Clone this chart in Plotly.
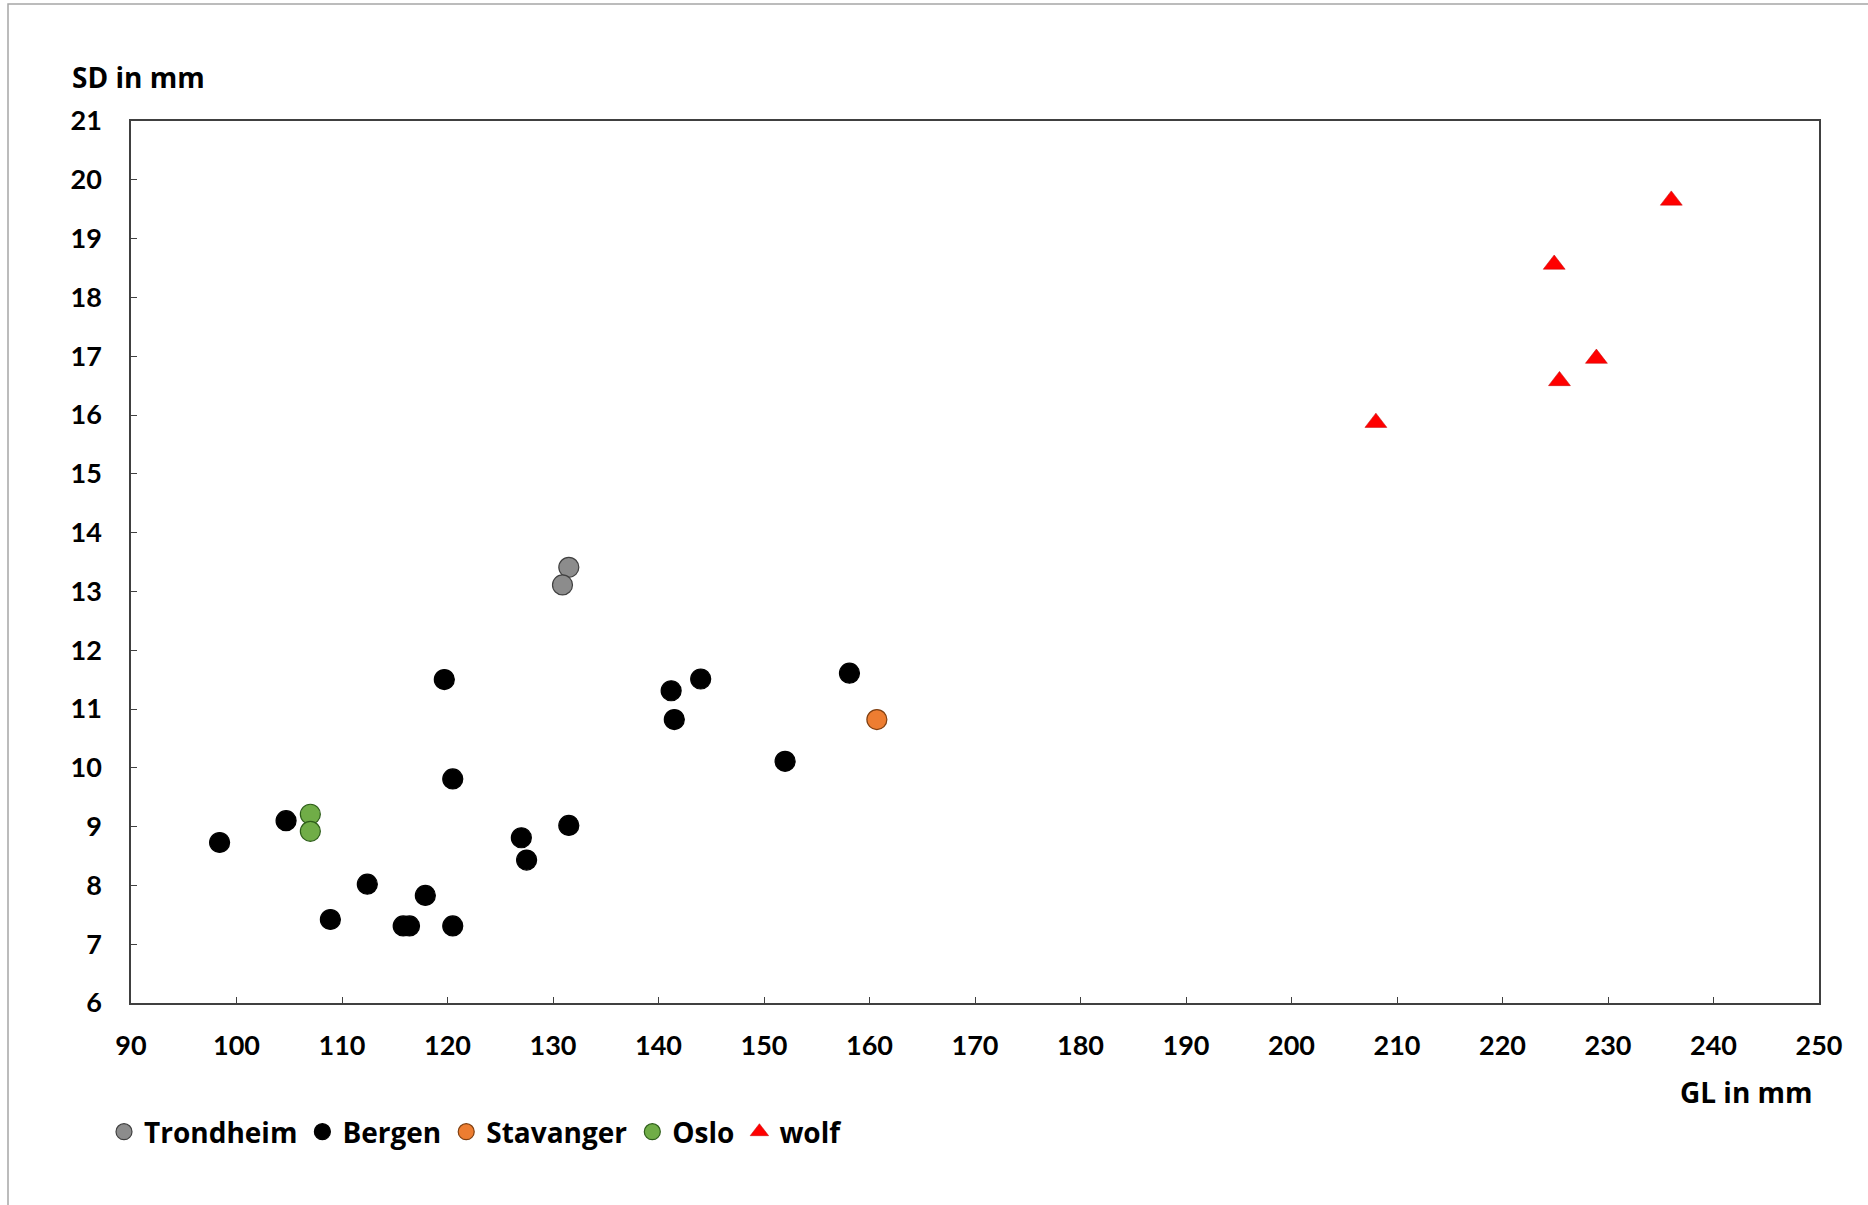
import plotly.graph_objects as go

# Data
trondheim_gl = [131.5, 130.9]
trondheim_sd = [13.41, 13.11]

bergen_gl = [98.4, 104.7, 108.9, 112.4, 115.8, 116.4, 117.9, 120.5, 119.7, 120.5,
             127.0, 127.5, 131.5, 141.2, 144.0, 141.5, 158.1, 152.0]
bergen_sd = [8.73, 9.10, 7.42, 8.02, 7.31, 7.31, 7.83, 7.31, 11.50, 9.81,
             8.81, 8.43, 9.02, 11.31, 11.51, 10.82, 11.61, 10.11]

stavanger_gl = [160.7]
stavanger_sd = [10.82]

oslo_gl = [107.0, 107.0]
oslo_sd = [9.21, 8.92]

wolf_gl = [236.0, 224.9, 228.9, 225.4, 208.0]
wolf_sd = [19.65, 18.56, 16.96, 16.58, 15.87]

x_ticks = list(range(90, 251, 10))
y_ticks = list(range(6, 22, 1))

FONT = "Lato"
TFONT = "Open Sans"
fig = go.Figure()

def add(name, xs, ys, color, line_color, symbol="circle", size=20, lw=1.2):
    fig.add_trace(go.Scatter(
        x=xs, y=ys, mode="markers", name=name,
        marker=dict(symbol=symbol, size=size, color=color,
                    line=dict(color=line_color, width=lw)),
    ))

add("Trondheim", trondheim_gl, trondheim_sd, "#8c8c8c", "#404040")
add("Bergen", bergen_gl, bergen_sd, "#000000", "#000000")
add("Stavanger", stavanger_gl, stavanger_sd, "#ed7d31", "#7f3f10")
add("Oslo", oslo_gl, oslo_sd, "#70ad47", "#2e5e1a")
add("wolf", wolf_gl, wolf_sd, "#ff0000", "#c00000", symbol="triangle-up", size=19, lw=0.5)

L, R, T, B = 131, 49, 121, 202
W, H = 1868, 1205
pw = W - L - R
ph = H - T - B

def px(x):
    return (x - L) / pw

def py(y):
    return (H - B - y) / ph

fig.update_layout(
    width=W, height=H,
    margin=dict(l=L, r=R, t=T, b=B),
    paper_bgcolor="white", plot_bgcolor="white",
    font=dict(family=FONT, size=27, color="black"),
    showlegend=True,
    legend=dict(orientation="h", x=px(104), y=py(1132), xanchor="left", yanchor="middle",
                font=dict(family=TFONT, size=28, color="black", weight="bold"),
                itemwidth=30, tracegroupgap=0, bgcolor="rgba(0,0,0,0)"),
    xaxis=dict(range=[90, 250], tickvals=x_ticks, ticktext=[str(v) for v in x_ticks],
               showgrid=False, zeroline=False, showline=True, linecolor="#404040",
               linewidth=1.5, mirror=True, ticks="inside", ticklen=6, tickcolor="#404040",
               tickfont=dict(family=FONT, size=27, color="black", weight="bold"),
               ticklabelstandoff=18),
    yaxis=dict(range=[6, 21], tickvals=y_ticks, ticktext=[str(v) for v in y_ticks],
               showgrid=False, zeroline=False, showline=True, linecolor="#404040",
               linewidth=1.5, mirror=True, ticks="inside", ticklen=6, tickcolor="#404040",
               tickfont=dict(family=FONT, size=27, color="black", weight="bold"),
               ticklabelstandoff=22),
    annotations=[
        dict(text="SD in mm", x=px(70), y=py(77), xref="paper", yref="paper",
             xanchor="left", yanchor="middle", showarrow=False,
             font=dict(family=TFONT, size=28, color="black", weight="bold")),
        dict(text="GL in mm", x=px(1815), y=py(1092), xref="paper", yref="paper",
             xanchor="right", yanchor="middle", showarrow=False,
             font=dict(family=TFONT, size=28, color="black", weight="bold")),
    ],
    shapes=[
        dict(type="rect", xref="paper", yref="paper",
             x0=px(8), x1=px(1880), y0=py(1215), y1=py(4),
             line=dict(color="#a6a6a6", width=1.5), fillcolor="rgba(0,0,0,0)", layer="below"),
    ],
)

fig.write_html("out.html")
